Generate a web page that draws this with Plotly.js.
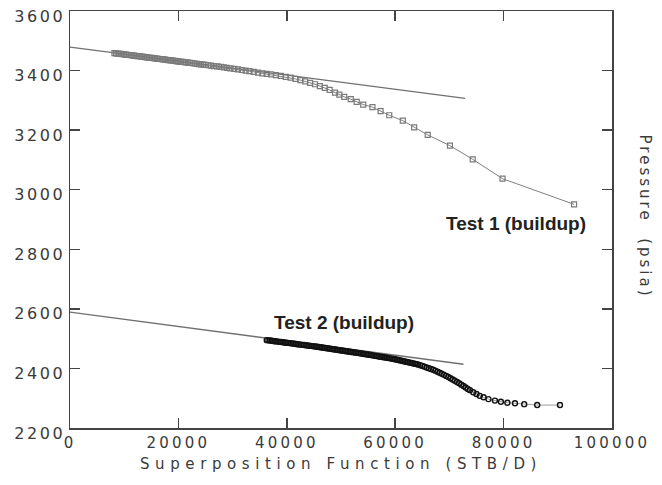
<!DOCTYPE html>
<html>
<head>
<meta charset="utf-8">
<script src="https://cdn.plot.ly/plotly-3.0.1.min.js"></script>
<style>
  html, body { margin: 0; padding: 0; background: #fff; }
  #chart { width: 662px; height: 485px; }
  .xtick text { letter-spacing: 3.2px; }
  .ytick text { letter-spacing: 2.6px; }
  .xtitle { letter-spacing: 5.6px; }
  .annotation[data-index="2"] .annotation-text { letter-spacing: 3px; }
</style>
</head>
<body>
<div id="chart"></div>
<script>
// Test 1 (buildup) – superposition function (STB/D) vs pressure (psia)
var test1X = [8200, 8500, 8800, 9100, 9400, 9700, 10000, 10300, 10600, 10900,
  11200, 11500, 11800, 12100, 12400, 12700, 13000, 13300, 13600, 13900,
  14200, 14500, 14800, 15100, 15400, 15700, 16000, 16300, 16600, 16900,
  17200, 17500, 17800, 18100, 18400, 18700, 19000, 19300, 19600, 19900,
  20200, 20500, 20800, 21100, 21400, 21800, 22200, 22600, 23000, 23400,
  23800, 24200, 24600, 25000, 25500, 26000, 26600, 27200, 27800, 28400,
  29000, 29600, 30300, 31000, 31700, 32400, 33100, 33900, 34700, 35500,
  36300, 37100, 38000, 38900, 39800, 40700, 41600, 42500, 43400, 44300,
  45200, 46100, 47000, 47900, 48900, 49700, 50600, 51800, 52900, 54100,
  55800, 57300, 58900, 61400, 63500, 66000, 70100, 74300, 79800, 93000];
var test1P = [3458.6, 3457.9, 3457.2, 3456.5, 3455.8, 3455.1, 3454.4, 3453.7, 3453.0, 3452.3,
  3451.6, 3450.9, 3450.2, 3449.4, 3448.7, 3448.0, 3447.3, 3446.6, 3445.9, 3445.2,
  3444.5, 3443.8, 3443.1, 3442.4, 3441.7, 3441.0, 3440.2, 3439.5, 3438.8, 3438.1,
  3437.4, 3436.7, 3436.0, 3435.3, 3434.6, 3433.9, 3433.2, 3432.5, 3431.7, 3431.0,
  3430.3, 3429.6, 3428.9, 3428.2, 3427.5, 3426.6, 3425.6, 3424.7, 3423.7, 3422.8,
  3421.8, 3420.9, 3419.9, 3419.0, 3417.8, 3416.6, 3415.2, 3413.8, 3412.4, 3410.8,
  3409.3, 3407.7, 3405.9, 3404.0, 3402.0, 3400.0, 3398.0, 3395.5, 3393.0, 3390.5,
  3389.0, 3387.0, 3385.0, 3382.0, 3379.0, 3376.0, 3372.0, 3368.0, 3364.0, 3359.0,
  3354.0, 3348.0, 3342.0, 3335.0, 3326.0, 3319.0, 3312.0, 3304.0, 3295.0, 3286.0,
  3277.0, 3264.0, 3250.0, 3232.0, 3209.0, 3184.0, 3148.0, 3102.0, 3037.0, 2951.0];

// Test 2 (buildup)
var test2X = [36300, 36600, 36900, 37200, 37500, 37800, 38100, 38400, 38700, 39000,
  39300, 39600, 39900, 40200, 40500, 40800, 41100, 41400, 41700, 42000,
  42300, 42600, 42900, 43200, 43500, 43800, 44100, 44400, 44700, 45000,
  45300, 45600, 45900, 46200, 46500, 46800, 47100, 47400, 47700, 48000,
  48300, 48600, 48900, 49200, 49500, 49800, 50100, 50400, 50700, 51000,
  51300, 51600, 51900, 52200, 52500, 52800, 53100, 53400, 53700, 54000,
  54300, 54600, 54900, 55200, 55500, 55800, 56100, 56400, 56700, 57000,
  57300, 57600, 57900, 58200, 58500, 58800, 59100, 59400, 59700, 60000,
  60300, 60600, 60900, 61200, 61500, 61800, 62100, 62400, 62700, 63000,
  63300, 63600, 63900, 64200, 64600, 65000, 65400, 65800, 66200, 66600,
  67000, 67400, 67800, 68200, 68600, 69000, 69400, 69800, 70200, 70600,
  71000, 71400, 71800, 72200, 72600, 73000, 73400, 73800, 74400, 75000,
  75600, 76300, 77200, 78400, 79500, 80700, 82100, 83800, 86200, 90400];
var test2P = [2495.0, 2494.3, 2493.6, 2492.8, 2492.1, 2491.4, 2490.7, 2490.0, 2489.3, 2488.5,
  2487.8, 2487.1, 2486.4, 2485.7, 2485.0, 2484.2, 2483.5, 2482.8, 2482.1, 2481.4,
  2480.7, 2479.9, 2479.2, 2478.5, 2477.8, 2477.1, 2476.4, 2475.6, 2474.9, 2474.2,
  2473.5, 2472.7, 2471.9, 2471.1, 2470.2, 2469.4, 2468.6, 2467.8, 2466.9, 2466.1,
  2465.3, 2464.5, 2463.6, 2462.8, 2462.0, 2461.2, 2460.3, 2459.5, 2458.7, 2457.9,
  2457.0, 2456.2, 2455.4, 2454.6, 2453.7, 2452.9, 2452.1, 2451.3, 2450.4, 2449.5,
  2448.6, 2447.6, 2446.7, 2445.8, 2444.9, 2443.9, 2443.0, 2442.1, 2441.2, 2440.2,
  2439.3, 2438.4, 2437.5, 2436.5, 2435.6, 2434.7, 2433.8, 2432.8, 2431.8, 2430.6,
  2429.4, 2428.1, 2426.9, 2425.7, 2424.4, 2423.2, 2422.0, 2420.8, 2419.5, 2418.3,
  2417.1, 2415.8, 2414.6, 2413.3, 2411.0, 2408.5, 2406.0, 2403.0, 2400.5, 2398.0,
  2395.5, 2392.5, 2389.0, 2385.5, 2382.0, 2378.5, 2375.0, 2371.0, 2367.0, 2363.0,
  2359.0, 2354.5, 2350.0, 2345.5, 2341.0, 2336.0, 2331.0, 2327.0, 2320.0, 2314.0,
  2308.0, 2303.0, 2297.0, 2292.0, 2288.0, 2285.0, 2283.0, 2280.0, 2277.0, 2277.0];

// Straight-line fits
var line1X = [0, 72900];
var line1P = [3479, 3307];
var line2X = [0, 72600];
var line2P = [2589, 2414];

// Axis ticks
var xTicks = [0, 20000, 40000, 60000, 80000, 100000];
var xTickText = ['0', '20000', '40000', '60000', '80000', '100000'];
var yTicks = [2200, 2400, 2600, 2800, 3000, 3200, 3400, 3600];
var yTickText = ['2200', '2400', '2600', '2800', '3000', '3200', '3400', '3600'];

var labels = {
  xTitle: 'Superposition Function (STB/D)',
  yTitle: 'Pressure  (psia)',
  test1: 'Test 1 (buildup)',
  test2: 'Test 2 (buildup)'
};

var traces = [
  { x: line1X, y: line1P, type: 'scatter', mode: 'lines',
    line: { color: '#707070', width: 1.3 }, hoverinfo: 'skip' },
  { x: line2X, y: line2P, type: 'scatter', mode: 'lines',
    line: { color: '#707070', width: 1.3 }, hoverinfo: 'skip' },
  { x: test1X, y: test1P, type: 'scatter', mode: 'lines+markers', name: labels.test1,
    line: { color: '#808080', width: 1 },
    marker: { symbol: 'square-open', size: 5, color: '#7a7a7a', line: { width: 1.2 } } },
  { x: test2X, y: test2P, type: 'scatter', mode: 'lines+markers', name: labels.test2,
    line: { color: '#9a9a9a', width: 1 },
    marker: { symbol: 'circle-open', size: 5, color: '#111111', line: { width: 1.4 } } }
];

var layout = {
  width: 662, height: 485,
  margin: { l: 70, r: 50, t: 11, b: 57 },
  paper_bgcolor: '#ffffff', plot_bgcolor: '#ffffff',
  showlegend: false,
  xaxis: {
    range: [0, 100000], tickvals: xTicks, ticktext: xTickText,
    ticks: 'inside', ticklen: 10, tickwidth: 1.5, tickcolor: '#444',
    showline: true, linecolor: '#444', linewidth: 1.5, mirror: 'ticks',
    showgrid: false, zeroline: false,
    tickfont: { family: 'DejaVu Sans', size: 15, color: '#3a3a3a' },
    title: { text: labels.xTitle, font: { family: 'DejaVu Sans', size: 15, color: '#3a3a3a' }, standoff: 8 }
  },
  yaxis: {
    range: [2200, 3600], tickvals: yTicks, ticktext: yTickText,
    ticks: 'inside', ticklen: 10, tickwidth: 1.5, tickcolor: '#444',
    showline: true, linecolor: '#444', linewidth: 1.5, mirror: 'ticks',
    showgrid: false, zeroline: false,
    tickfont: { family: 'DejaVu Sans', size: 16, color: '#3a3a3a' },
    ticklabelshift: 5
  },
  annotations: [
    { x: 82300, y: 2885, xref: 'x', yref: 'y', text: '<b>' + labels.test1 + '</b>',
      showarrow: false, font: { family: 'Liberation Sans', size: 19, color: '#222' } },
    { x: 50600, y: 2553, xref: 'x', yref: 'y', text: '<b>' + labels.test2 + '</b>',
      showarrow: false, font: { family: 'Liberation Sans', size: 19, color: '#222' } },
    { x: 1.082, y: 0.506, xref: 'paper', yref: 'paper', text: labels.yTitle, textangle: 90,
      showarrow: false, font: { family: 'DejaVu Sans', size: 15, color: '#3a3a3a' } }
  ]
};

Plotly.newPlot('chart', traces, layout, { displayModeBar: false, staticPlot: true });
</script>
</body>
</html>
